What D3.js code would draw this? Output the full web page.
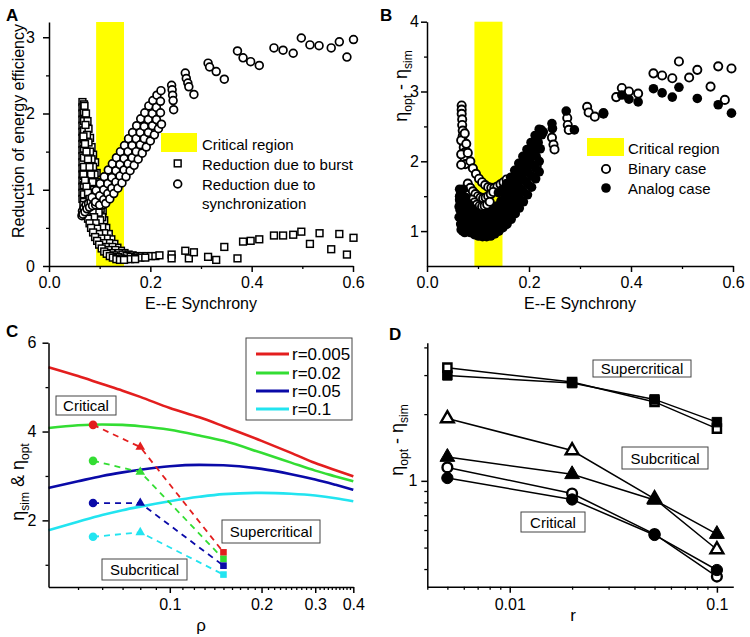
<!DOCTYPE html>
<html><head><meta charset="utf-8">
<script src="https://cdn.jsdelivr.net/npm/d3@7"></script>
<style>body{margin:0;background:#fff}svg{display:block}</style>
</head><body>
<script>
// ---------------- DATA ----------------
// Panel A: reduction due to burst (squares)
const aBurst = [
 [0.066,2.15],[0.066,2.08],[0.066,2.0],[0.066,1.92],[0.066,1.84],[0.066,1.76],[0.066,1.68],[0.066,1.6],[0.066,1.52],[0.066,1.44],[0.066,1.36],[0.066,1.28],[0.066,1.2],[0.066,1.12],[0.066,1.04],[0.066,0.96],[0.066,0.88],
 [0.069,2.12],[0.069,2.02],[0.069,1.9],[0.069,1.78],[0.069,1.66],[0.069,1.54],[0.069,1.42],[0.069,1.3],[0.069,1.18],[0.069,1.06],[0.069,0.94],[0.069,0.84],
 [0.07,2.1],[0.073,2.0],[0.076,1.9],[0.078,1.8],[0.081,1.68],[0.084,1.56],[0.087,1.46],[0.091,1.36],[0.094,1.22],[0.097,1.1],[0.1,0.98],[0.103,0.85],[0.106,0.72],[0.109,0.6],[0.113,0.5],[0.118,0.42],[0.123,0.35],[0.129,0.29],[0.135,0.24],[0.142,0.2],[0.149,0.17],[0.157,0.15],[0.165,0.14],[0.174,0.13],[0.183,0.13],[0.192,0.13],[0.201,0.13],[0.21,0.13],[0.218,0.14],
 [0.072,1.85],[0.075,1.72],[0.078,1.62],[0.081,1.5],[0.084,1.4],[0.087,1.3],[0.09,1.2],[0.093,1.08],[0.096,0.97],[0.099,0.86],[0.102,0.75],[0.105,0.64],
 [0.068,1.7],[0.071,1.6],[0.074,1.5],[0.077,1.4],[0.08,1.3],[0.083,1.2],[0.086,1.1],[0.089,1.0],[0.092,0.9],[0.095,0.8],[0.098,0.7],[0.101,0.6],[0.105,0.51],[0.109,0.43],[0.114,0.36],[0.119,0.3],[0.125,0.25],[0.131,0.21],[0.138,0.17],[0.145,0.15],[0.153,0.13],[0.161,0.12],[0.17,0.11],[0.18,0.11],[0.19,0.11],
 [0.068,1.2],[0.071,1.12],[0.074,1.04],[0.077,0.96],[0.08,0.88],[0.083,0.8],[0.086,0.72],[0.089,0.64],[0.092,0.56],[0.095,0.49],[0.099,0.42],[0.103,0.36],[0.107,0.3],[0.112,0.25],[0.117,0.21],[0.123,0.17],[0.129,0.14],[0.136,0.12],[0.143,0.1],[0.151,0.09],[0.16,0.09],[0.17,0.09],
 [0.068,0.8],[0.071,0.74],[0.074,0.68],[0.077,0.62],[0.08,0.56],[0.083,0.5],[0.087,0.44],[0.091,0.38],[0.095,0.33],[0.099,0.28],[0.104,0.23],[0.109,0.19],[0.114,0.16],[0.12,0.13],[0.126,0.11],[0.133,0.09],[0.14,0.08],[0.148,0.08],
 [0.242,0.15],[0.242,0.1],[0.269,0.2],[0.276,0.1],[0.286,0.18],[0.314,0.12],[0.33,0.08],[0.346,0.25],[0.372,0.1],[0.383,0.32],[0.398,0.33],[0.415,0.35],[0.444,0.4],[0.462,0.4],[0.482,0.41],[0.498,0.45],[0.515,0.29],[0.534,0.43],[0.557,0.22],[0.573,0.42],[0.588,0.15],[0.601,0.37]
];
// Panel A: reduction due to synchronization (circles)
const aSync = [
 [0.065,0.66],[0.066,0.72],[0.067,0.68],[0.069,0.76],[0.071,0.71],[0.073,0.8],[0.075,0.75],[0.078,0.82],[0.08,0.77],[0.083,0.84],[0.086,0.79],[0.089,0.86],[0.092,0.8],[0.095,0.88],[0.098,0.82],[0.102,0.86],[0.106,0.8],[0.11,0.85],
 [0.085,0.9],[0.093,0.99],[0.101,1.08],[0.109,1.17],[0.117,1.26],[0.125,1.34],[0.133,1.42],[0.141,1.5],[0.149,1.58],[0.157,1.67],[0.165,1.75],[0.173,1.84],[0.181,1.93],[0.189,2.01],[0.197,2.1],[0.205,2.17],[0.213,2.24],[0.221,2.3],
 [0.092,0.84],[0.1,0.92],[0.108,1.0],[0.116,1.08],[0.124,1.16],[0.132,1.25],[0.14,1.33],[0.148,1.41],[0.156,1.5],[0.164,1.58],[0.172,1.67],[0.18,1.75],[0.188,1.83],[0.196,1.92],[0.204,2.0],[0.212,2.08],[0.22,2.16],
 [0.1,0.8],[0.108,0.87],[0.116,0.95],[0.124,1.02],[0.132,1.1],[0.14,1.18],[0.148,1.26],[0.156,1.34],[0.164,1.42],[0.172,1.5],[0.18,1.59],[0.188,1.67],[0.196,1.75],[0.204,1.84],[0.212,1.92],[0.22,2.01],
 [0.112,0.82],[0.12,0.88],[0.128,0.95],[0.136,1.02],[0.144,1.09],[0.152,1.17],[0.16,1.25],[0.168,1.32],[0.176,1.4],[0.184,1.48],[0.192,1.56],[0.2,1.64],[0.208,1.72],[0.216,1.8],[0.222,1.86],
 [0.242,2.37],[0.243,2.31],[0.244,2.24],[0.245,2.17],[0.246,2.05],[0.269,2.53],[0.271,2.46],[0.274,2.4],[0.276,2.35],[0.286,2.25],[0.314,2.66],[0.317,2.61],[0.33,2.55],[0.346,2.45],[0.372,2.82],[0.383,2.73],[0.398,2.68],[0.415,2.63],[0.444,2.86],[0.462,2.83],[0.482,2.79],[0.498,2.99],[0.515,2.9],[0.533,2.89],[0.557,2.86],[0.573,2.94],[0.588,2.74],[0.601,2.97]
];
// Panel B: binary case (open circles)
const bBinary = [
 [0.068,2.8],[0.068,2.74],[0.068,2.68],[0.069,2.6],[0.069,2.52],[0.07,2.44],[0.07,2.36],[0.071,2.28],[0.072,2.2],[0.073,2.12],[0.074,2.04],[0.075,1.96],[0.067,2.3],[0.067,2.1],[0.067,1.95],
 [0.074,2.4],[0.077,2.25],[0.08,2.12],[0.085,2.0],[0.09,1.9],[0.096,1.82],[0.102,1.75],[0.108,1.7],[0.114,1.66],[0.12,1.63],[0.126,1.62],[0.132,1.62],[0.138,1.64],[0.144,1.67],[0.15,1.7],[0.156,1.74],
 [0.08,1.68],[0.085,1.62],[0.09,1.57],[0.095,1.53],[0.1,1.5],[0.105,1.48],[0.11,1.47],[0.115,1.48],[0.12,1.5],[0.125,1.53],[0.13,1.56],
 [0.088,1.45],[0.093,1.41],[0.098,1.38],[0.103,1.36],[0.108,1.35],[0.113,1.36],[0.118,1.38],[0.123,1.42],
 [0.215,1.93],[0.245,2.34],[0.248,2.24],[0.25,2.17],[0.275,2.62],[0.276,2.52],[0.278,2.45],[0.314,2.78],[0.317,2.7],[0.329,2.64],[0.346,2.69],
 [0.371,2.92],[0.382,3.05],[0.396,3.0],[0.414,2.97],[0.444,3.26],[0.461,3.23],[0.481,3.19],[0.494,3.43],[0.514,3.2],[0.53,3.31],[0.556,3.07],[0.571,3.36],[0.584,2.88],[0.597,3.33]
];
// Panel B: analog case (filled circles)
const bAnalog = [
 [0.063,1.2],[0.063,1.35],[0.064,1.5],[0.066,1.1],[0.067,1.02],[0.07,1.0],[0.074,0.98],
 [0.064,1.45],[0.065,1.3],[0.068,1.18],[0.072,1.1],[0.078,1.03],[0.085,0.98],[0.093,0.95],[0.101,0.93],[0.109,0.92],[0.117,0.92],[0.125,0.93],[0.133,0.96],[0.141,1.0],[0.149,1.05],[0.157,1.1],[0.165,1.17],[0.173,1.25],[0.181,1.33],[0.189,1.42],[0.197,1.52],[0.205,1.63],[0.213,1.75],[0.22,1.85],
 [0.064,1.6],[0.065,1.42],[0.068,1.3],[0.072,1.2],[0.078,1.12],[0.085,1.06],[0.093,1.02],[0.101,1.0],[0.109,0.99],[0.117,0.99],[0.125,1.0],[0.133,1.03],[0.141,1.08],[0.149,1.14],[0.157,1.21],[0.165,1.29],[0.173,1.38],[0.181,1.47],[0.189,1.57],[0.197,1.68],[0.205,1.79],[0.213,1.9],[0.22,2.0],
 [0.066,1.55],[0.069,1.42],[0.073,1.31],[0.079,1.22],[0.086,1.15],[0.094,1.1],[0.102,1.08],[0.11,1.07],[0.118,1.07],[0.126,1.09],[0.134,1.13],[0.142,1.18],[0.15,1.25],[0.158,1.33],[0.166,1.42],[0.174,1.52],[0.182,1.62],[0.19,1.73],[0.198,1.84],[0.206,1.95],[0.214,2.07],[0.222,2.18],
 [0.068,1.58],[0.072,1.45],[0.077,1.35],[0.083,1.27],[0.09,1.21],[0.098,1.17],[0.106,1.15],[0.114,1.15],[0.122,1.17],[0.13,1.21],[0.138,1.27],[0.146,1.34],[0.154,1.42],[0.162,1.51],[0.17,1.61],[0.178,1.71],[0.186,1.82],[0.194,1.93],[0.202,2.04],[0.21,2.15],[0.218,2.27],[0.225,2.38],
 [0.071,1.6],[0.076,1.48],[0.082,1.39],[0.089,1.32],[0.097,1.27],[0.105,1.24],[0.113,1.24],[0.121,1.26],[0.129,1.3],[0.137,1.36],[0.145,1.43],[0.153,1.51],[0.161,1.6],[0.169,1.7],[0.177,1.8],[0.185,1.91],[0.193,2.02],[0.201,2.13],[0.209,2.24],[0.217,2.35],[0.224,2.45],
 [0.14,1.55],[0.148,1.6],[0.156,1.68],[0.164,1.77],[0.172,1.87],[0.18,1.97],[0.188,2.07],[0.196,2.17],[0.204,2.27],[0.212,2.37],[0.22,2.46],
 [0.228,2.42],[0.245,2.54],[0.246,2.47],[0.273,2.72],[0.289,2.45],[0.346,2.68],[0.382,2.95],[0.396,2.89],[0.414,2.85],[0.444,3.04],[0.461,2.98],[0.481,2.92],[0.494,3.06],[0.53,2.9],[0.571,2.81],[0.597,2.69]
];
const criticalBand = [0.093, 0.148];

// Panel C
const rhoGrid = [0.04,0.05,0.06,0.07,0.08,0.1,0.125,0.15,0.2,0.25,0.3,0.35,0.4];
const curveR005 = [5.45,5.25,5.07,4.92,4.78,4.53,4.32,4.12,3.79,3.52,3.29,3.13,2.99];
const curveR02  = [4.08,4.14,4.16,4.15,4.12,4.04,3.91,3.79,3.52,3.30,3.12,2.99,2.88];
const curveR05  = [2.73,2.88,3.00,3.08,3.14,3.22,3.25,3.24,3.16,3.04,2.92,2.80,2.69];
const curveR1   = [1.78,1.97,2.12,2.23,2.31,2.43,2.53,2.59,2.62,2.60,2.56,2.50,2.43];
const rLabels = ["r=0.005","r=0.02","r=0.05","r=0.1"];
const rColors = ["#e31e1e","#33dd33","#0a0aa8","#22e4f0"];
const rhoMarks = [0.056, 0.08, 0.15];          // critical, subcritical, supercritical
const etaCritical = [4.15,3.34,2.39,1.63];
const etaSubcrit  = [3.65,3.09,2.39,1.73];
const etaSupcrit  = [1.28,1.13,0.98,0.78];

// Panel D
const rVals = [0.005,0.02,0.05,0.1];
const dSupOpen   = [3.24,2.79,2.27,1.72];
const dSupFilled = [2.99,2.76,2.33,1.84];
const dSubOpen   = [1.91,1.37,0.83,0.49];
const dSubFilled = [1.28,1.07,0.82,0.575];
const dCritOpen  = [1.15,0.877,0.575,0.37];
const dCritFilled= [1.03,0.824,0.57,0.396];

// ---------------- DRAW ----------------
const FONT = "'Liberation Sans', Arial, sans-serif";
const svg = d3.select("body").append("svg").attr("width",750).attr("height",637)
  .style("font-family",FONT);

function axis(scale, orient, pos, major, minor, fmt, pad){
  const mk = orient==="bottom" ? d3.axisBottom : d3.axisLeft;
  const tr = orient==="bottom" ? `translate(0,${pos})` : `translate(${pos},0)`;
  const gm = svg.append("g").attr("transform",tr)
    .call(mk(scale).tickValues(minor).tickFormat("").tickSize(3).tickSizeOuter(0));
  gm.select(".domain").remove();
  gm.selectAll("line").attr("stroke","#000").attr("stroke-width",1.3);
  const g = svg.append("g").attr("transform",tr)
    .call(mk(scale).tickValues(major).tickFormat(fmt).tickSize(6).tickPadding(pad).tickSizeOuter(0));
  g.selectAll("line,path").attr("stroke","#000").attr("stroke-width",1.5);
  g.selectAll("text").attr("font-size",16).attr("font-family",FONT).attr("fill","#000");
  return g;
}
function txt(x,y,s,size,anchor,weight){
  return svg.append("text").attr("x",x).attr("y",y).attr("font-size",size)
    .attr("text-anchor",anchor||"start").attr("font-weight",weight||"normal").attr("fill","#000").text(s);
}
function etaTitle(x,y,a,b,c,d){
  const t = svg.append("text").attr("transform",`translate(${x},${y}) rotate(-90)`)
    .attr("text-anchor","middle").attr("fill","#000").attr("font-size",18);
  t.append("tspan").text(a);
  t.append("tspan").attr("font-size",12).attr("dy",5).text(b);
  t.append("tspan").attr("dy",-5).text(c);
  t.append("tspan").attr("font-size",12).attr("dy",5).text(d);
}
function box(x0,y0,x1,y1,s){
  svg.append("rect").attr("x",x0).attr("y",y0).attr("width",x1-x0).attr("height",y1-y0)
    .attr("fill","#fff").attr("stroke","#444").attr("stroke-width",1);
  svg.append("text").attr("x",(x0+x1)/2).attr("y",(y0+y1)/2).attr("dominant-baseline","central")
    .attr("text-anchor","middle").attr("font-size",15).attr("fill","#000").text(s);
}
const fmt1 = d3.format(".1f");

// ===== Panel A =====
const xA = d3.scaleLinear([0,0.6],[49,353]);
const yA = d3.scaleLinear([0,3.2],[266,22]);
svg.append("rect").attr("x",xA(criticalBand[0])).attr("y",yA(3.2))
  .attr("width",xA(criticalBand[1])-xA(criticalBand[0])).attr("height",yA(0)-yA(3.2)).attr("fill","#ffff00");
svg.append("g").selectAll("rect").data(aBurst).join("rect")
  .attr("x",d=>xA(d[0])-3.4).attr("y",d=>yA(d[1])-3.4).attr("width",6.8).attr("height",6.8)
  .attr("fill","#fff").attr("stroke","#000").attr("stroke-width",1.5);
svg.append("g").selectAll("circle").data(aSync).join("circle")
  .attr("cx",d=>xA(d[0])).attr("cy",d=>yA(d[1])).attr("r",3.9)
  .attr("fill","#fff").attr("stroke","#000").attr("stroke-width",1.7);
axis(xA,"bottom",266,[0,0.2,0.4,0.6],[0.1,0.3,0.5],fmt1,5);
axis(yA,"left",49,[0,1,2,3],[0.5,1.5,2.5],d3.format("d"),8);
txt(201,309,"E--E Synchrony",16,"middle");
svg.append("text").attr("transform","translate(24,131) rotate(-90)").attr("text-anchor","middle")
  .attr("font-size",16).attr("fill","#000").text("Reduction of energy efficiency");
txt(6,21,"A",17,"start","bold");
svg.append("rect").attr("x",161).attr("y",133).attr("width",36).attr("height",19).attr("fill","#ffff00");
svg.append("rect").attr("x",174.3).attr("y",160).attr("width",6.8).attr("height",6.8)
  .attr("fill","#fff").attr("stroke","#000").attr("stroke-width",1.5);
svg.append("circle").attr("cx",177.7).attr("cy",184).attr("r",3.9)
  .attr("fill","#fff").attr("stroke","#000").attr("stroke-width",1.7);
[["Critical region",144],["Reduction due to burst",164],["Reduction due to",184],["synchronization",203.5]]
  .forEach(([s,y])=>txt(202,y,s,15).attr("dominant-baseline","central"));

// ===== Panel B =====
const xB = d3.scaleLinear([0,0.6],[427,733]);
const yB = d3.scaleLinear([0.5,4],[266,21.7]);
svg.append("rect").attr("x",xB(criticalBand[0])).attr("y",yB(4))
  .attr("width",xB(criticalBand[1])-xB(criticalBand[0])).attr("height",yB(0.5)-yB(4)).attr("fill","#ffff00");
svg.append("g").selectAll("circle").data(bBinary).join("circle")
  .attr("cx",d=>xB(d[0])).attr("cy",d=>yB(d[1])).attr("r",4.1)
  .attr("fill","#fff").attr("stroke","#000").attr("stroke-width",1.9);
svg.append("g").selectAll("circle").data(bAnalog).join("circle")
  .attr("cx",d=>xB(d[0])).attr("cy",d=>yB(d[1])).attr("r",4.8).attr("fill","#000");
axis(xB,"bottom",266,[0,0.2,0.4,0.6],[0.1,0.3,0.5],fmt1,5);
axis(yB,"left",427,[1,2,3,4],[1.5,2.5,3.5],d3.format("d"),2);
txt(580,309,"E--E Synchrony",16,"middle");
etaTitle(407,86,"η","opt"," - η","sim");
txt(380,21,"B",17,"start","bold");
svg.append("rect").attr("x",587).attr("y",138).attr("width",37).attr("height",18).attr("fill","#ffff00");
svg.append("circle").attr("cx",606).attr("cy",169).attr("r",4.1)
  .attr("fill","#fff").attr("stroke","#000").attr("stroke-width",1.9);
svg.append("circle").attr("cx",606).attr("cy",188).attr("r",4.8).attr("fill","#000");
[["Critical region",148],["Binary case",168],["Analog case",188]]
  .forEach(([s,y])=>txt(628,y,s,15).attr("dominant-baseline","central"));

// ===== Panel C =====
const xC = d3.scaleLog([0.04,0.4],[48.5,353.3]);
const yC = d3.scaleLinear([0.5,6],[587,342.7]);
const curves = [curveR005,curveR02,curveR05,curveR1];
const line = d3.line().x(d=>xC(d[0])).y(d=>yC(d[1])).curve(d3.curveMonotoneX);
curves.forEach((c,i)=>{
  svg.append("path").attr("d",line(rhoGrid.map((r,j)=>[r,c[j]])))
    .attr("fill","none").attr("stroke",rColors[i]).attr("stroke-width",2.6);
});
const markSets = [etaCritical,etaSubcrit,etaSupcrit];
rColors.forEach((col,i)=>{
  const pts = rhoMarks.map((r,k)=>[r,markSets[k][i]]);
  svg.append("path").attr("d",d3.line().x(d=>xC(d[0])).y(d=>yC(d[1]))(pts))
    .attr("fill","none").attr("stroke",col).attr("stroke-width",1.8).attr("stroke-dasharray","6,5");
  svg.append("circle").attr("cx",xC(pts[0][0])).attr("cy",yC(pts[0][1])).attr("r",4.3).attr("fill",col);
  svg.append("path").attr("transform",`translate(${xC(pts[1][0])},${yC(pts[1][1])})`)
    .attr("d",d3.symbol(d3.symbolTriangle,40)()).attr("fill",col);
  svg.append("rect").attr("x",xC(pts[2][0])-3.3).attr("y",yC(pts[2][1])-3.3)
    .attr("width",6.6).attr("height",6.6).attr("fill",col);
});
axis(xC,"bottom",587,[0.1,0.2,0.3,0.4],
  [0.05,0.06,0.07,0.08,0.09,0.11,0.12,0.13,0.14,0.15,0.16,0.17,0.18,0.19,0.21,0.22,0.23,0.24,0.25,0.26,0.27,0.28,0.29,0.31,0.32,0.33,0.34,0.35,0.36,0.37,0.38,0.39],
  d3.format(".1f"),6);
axis(yC,"left",48.5,[2,4,6],[1,3,5],d3.format("d"),6);
txt(201,631,"ρ",17,"middle");
etaTitle(24,482,"η","sim"," & η","opt");
txt(6,337,"C",17,"start","bold");
svg.append("rect").attr("x",246).attr("y",338).attr("width",106).attr("height",82)
  .attr("fill","#fff").attr("stroke","#444").attr("stroke-width",1);
rLabels.forEach((s,i)=>{
  const y = [354,373,391,409][i];
  svg.append("line").attr("x1",256).attr("x2",289).attr("y1",y).attr("y2",y)
    .attr("stroke",rColors[i]).attr("stroke-width",3);
  txt(292,y,s,17).attr("dominant-baseline","central");
});
box(56,396,116,415,"Critical");
box(222,520,320,543,"Supercritical");
box(102,559,187,580,"Subcritical");

// ===== Panel D =====
const xD = d3.scaleLog([0.004,0.12],[427.3,733.3]);
const yD = d3.scaleLog([0.333,4.2],[586.7,342.7]);
const dSeries = [
  {v:dSupOpen, s:"square", open:true},
  {v:dSupFilled, s:"square", open:false},
  {v:dSubOpen, s:"triangle", open:true},
  {v:dSubFilled, s:"triangle", open:false},
  {v:dCritOpen, s:"circle", open:true},
  {v:dCritFilled, s:"circle", open:false}
];
dSeries.forEach(se=>{
  svg.append("path").attr("d",d3.line().x((d,i)=>xD(rVals[i])).y(d=>yD(d))(se.v))
    .attr("fill","none").attr("stroke","#000").attr("stroke-width",1.5);
});
const symSize = {square:90, triangle:95, circle:100};
const symType = {square:d3.symbolSquare, triangle:d3.symbolTriangle, circle:d3.symbolCircle};
dSeries.forEach(se=>{
  se.v.forEach((d,i)=>{
    svg.append("path").attr("transform",`translate(${xD(rVals[i])},${yD(d)})`)
      .attr("d",d3.symbol(symType[se.s], se.open? symSize[se.s]*0.75 : symSize[se.s])())
      .attr("fill",se.open?"#fff":"#000").attr("stroke","#000").attr("stroke-width",se.open?2.4:1);
  });
});
axis(xD,"bottom",586.7,[0.01,0.1],
  [0.004,0.005,0.006,0.007,0.008,0.009,0.02,0.03,0.04,0.05,0.06,0.07,0.08,0.09],d=>String(d),6);
axis(yD,"left",427.3,[1],[0.4,0.5,0.6,0.7,0.8,0.9,2,3,4],d=>String(d),4);
txt(573,621,"r",17,"middle");
etaTitle(403,440,"η","opt"," - η","sim");
txt(389,340,"D",17,"start","bold");
box(593,360,691,377,"Supercritical");
box(622,447,708,469,"Subcritical");
box(521,512,585,532,"Critical");
</script>
</body></html>
